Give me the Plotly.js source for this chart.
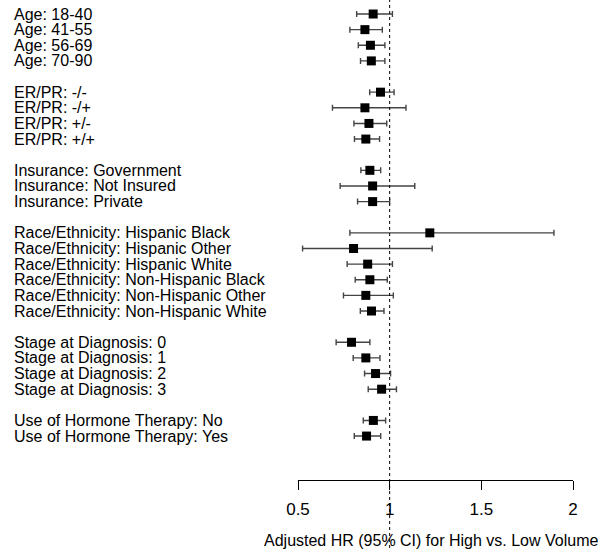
<!DOCTYPE html>
<html>
<head>
<meta charset="utf-8">
<script src="https://cdn.plot.ly/plotly-3.0.1.min.js"></script>
<style>html,body{margin:0;padding:0;background:#fff}#chart{width:611px;height:552px}</style>
</head>
<body>
<div id="chart"></div>
<script>
const labels = [
  "Age: 18-40","Age: 41-55","Age: 56-69","Age: 70-90",
  "ER/PR: -/-","ER/PR: -/+","ER/PR: +/-","ER/PR: +/+",
  "Insurance: Government","Insurance: Not Insured","Insurance: Private",
  "Race/Ethnicity: Hispanic Black","Race/Ethnicity: Hispanic Other","Race/Ethnicity: Hispanic White",
  "Race/Ethnicity: Non-Hispanic Black","Race/Ethnicity: Non-Hispanic Other","Race/Ethnicity: Non-Hispanic White",
  "Stage at Diagnosis: 0","Stage at Diagnosis: 1","Stage at Diagnosis: 2","Stage at Diagnosis: 3",
  "Use of Hormone Therapy: No","Use of Hormone Therapy: Yes"
];
const hr    = [0.91,0.865,0.895,0.90, 0.95,0.865,0.887,0.870, 0.892,0.907,0.907, 1.219,0.803,0.880,0.892,0.870,0.901, 0.792,0.870,0.923,0.956, 0.911,0.874];
const lower = [0.82,0.783,0.829,0.841, 0.891,0.688,0.805,0.808, 0.843,0.730,0.825, 0.783,0.525,0.768,0.812,0.748,0.840, 0.708,0.801,0.863,0.883, 0.856,0.807];
const upper = [1.015,0.96,0.974,0.974, 1.024,1.089,0.984,0.945, 0.951,1.137,1.0, 1.896,1.232,1.015,0.987,1.020,0.969, 0.892,0.947,1.005,1.037, 0.978,0.951];
const xTicks = [0.5,1,1.5,2];
const xTickText = ["0.5","1","1.5","2"];
const xTitle = "Adjusted HR (95% CI) for High vs. Low Volume";

// row positions: one blank row between groups
const rowPos = [];
let r = 0, prev = null;
labels.forEach(l => {
  const g = l.split(":")[0];
  if (prev !== null && g !== prev) r += 1;
  rowPos.push(r); r += 1; prev = g;
});

const trace = {
  type: "scatter", mode: "markers",
  x: hr, y: rowPos,
  marker: {symbol: "square", size: 9, color: "#000"},
  error_x: {
    type: "data", symmetric: false,
    array: upper.map((u,i) => u - hr[i]),
    arrayminus: lower.map((l,i) => hr[i] - l),
    color: "#444", thickness: 1.4, width: 3
  },
  hoverinfo: "x+y", cliponaxis: false
};

const annotations = labels.map((l,i) => ({
  xref: "paper", yref: "y", x: (12-298)/275, y: rowPos[i],
  xanchor: "left", yanchor: "middle", text: l, showarrow: false,
  font: {family: "Liberation Sans, Arial, sans-serif", size: 16, color: "#000"}
}));
annotations.push({
  xref: "paper", yref: "paper", x: (431-298)/275, y: -60/480, xanchor: "center", yanchor: "middle",
  text: xTitle, showarrow: false,
  font: {family: "Liberation Sans, Arial, sans-serif", size: 16, color: "#000"}
});

const layout = {
  width: 611, height: 552,
  margin: {l: 298, r: 38, t: 0, b: 72},
  paper_bgcolor: "#fff", plot_bgcolor: "#fff",
  showlegend: false,
  xaxis: {
    range: [0.5, 2], tickvals: xTicks, ticktext: xTickText,
    showgrid: false, zeroline: false, showline: true, linecolor: "#000", linewidth: 1,
    ticks: "outside", ticklen: 9, tickcolor: "#000", tickwidth: 1,
    ticklabelstandoff: 5,
    tickfont: {family: "Liberation Sans, Arial, sans-serif", size: 17, color: "#000"},
    fixedrange: true
  },
  yaxis: {
    range: [29.81, -0.896], visible: false, showgrid: false, zeroline: false, fixedrange: true
  },
  shapes: [{
    type: "line", xref: "x", yref: "paper", x0: 1, x1: 1, y0: -68/480, y1: 1,
    line: {color: "#000", width: 1, dash: "dot"}
  }],
  annotations: annotations
};

Plotly.newPlot("chart", [trace], layout, {staticPlot: true});
</script>
</body>
</html>
